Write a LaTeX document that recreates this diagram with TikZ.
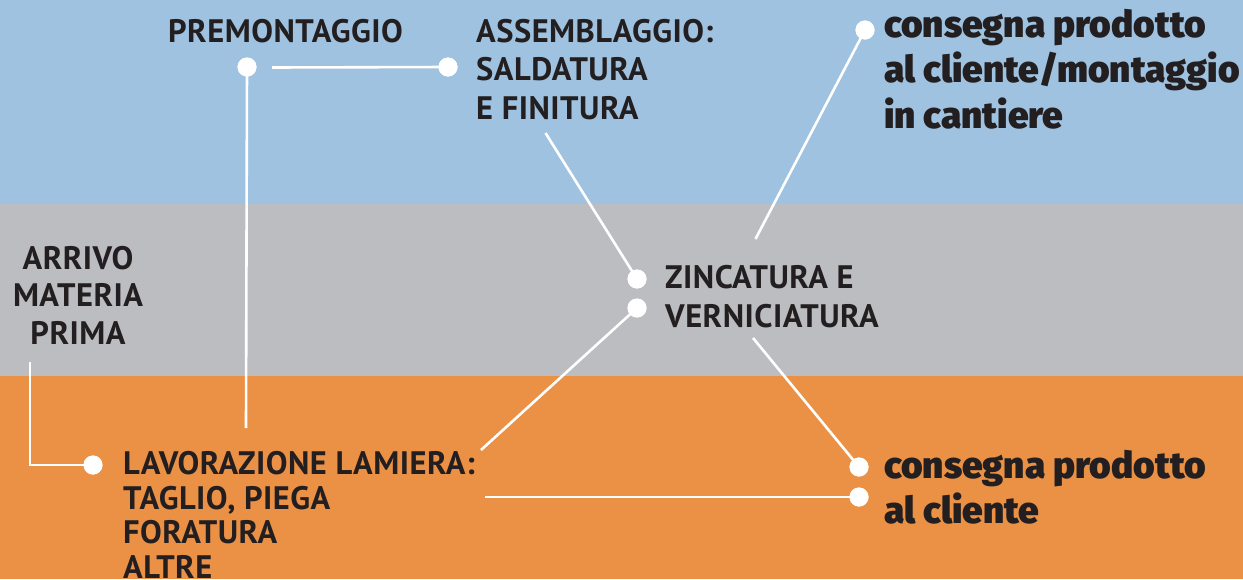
\documentclass[tikz,border=0pt]{standalone}
\usepackage{fontspec}
\setmainfont{PT Sans}[LetterSpace=1.5]
\newfontfamily\heavyfont{Fira Sans}[UprightFont={* Black}]
\definecolor{bandblue}{HTML}{9EC2E0}
\definecolor{bandgray}{HTML}{BCBDC0}
\definecolor{bandorange}{HTML}{EB9145}
\definecolor{ink}{HTML}{231F20}
\begin{document}
\begin{tikzpicture}[x=1pt,y=-1pt,
  dot/.style={circle,fill=white,draw=none,minimum size=19pt,inner sep=0pt},
  link/.style={draw=white,line width=2.6pt},
  capslabel/.style={anchor=base west,inner sep=0pt,align=left,text=ink,
    font=\fontsize{32.5}{#1}\selectfont\bfseries},
  capslabel/.default=38,
  bigsign/.style={anchor=base west,inner sep=0pt,align=left,text=ink,
    font=\fontsize{37}{#1}\selectfont\heavyfont},
  bigsign/.default=45.5]
\useasboundingbox (0,0) rectangle (1243,579);
\fill[bandblue] (0,0) rectangle (1243,204);
\fill[bandgray] (0,204) rectangle (1243,376);
\fill[bandorange] (0,376) rectangle (1243,579);
% dots
\node[dot] (dpre) at (247,67) {};
\node[dot] (dass) at (448,67) {};
\node[dot] (dzinc1) at (637,279) {};
\node[dot] (dzinc2) at (637,308) {};
\node[dot] (dcons1) at (865,30) {};
\node[dot] (dcons2a) at (859,467) {};
\node[dot] (dcons2b) at (859,497) {};
\node[dot] (dlav) at (93,465) {};
% labels (anchored at the baseline of their last line)
\node[capslabel] (tpre) at (168,42) {PREMONTAGGIO};
\node[capslabel=38.5] (tass) at (476,119) {ASSEMBLAGGIO:\\SALDATURA\\E FINITURA};
\node[capslabel=39] (tzinc) at (665,327) {ZINCATURA E\\VERNICIATURA};
\node[capslabel=37.5,anchor=base,align=center] (tarr) at (78,344) {ARRIVO\\MATERIA\\PRIMA};
\node[capslabel=34.7] (tlav) at (123,578.5) {LAVORAZIONE LAMIERA:\\TAGLIO, PIEGA\\FORATURA\\ALTRE};
\node[bigsign] (tcons1) at (884,128) {consegna prodotto\\al cliente/montaggio\\in cantiere};
\node[bigsign=45] (tcons2) at (884,523) {consegna prodotto\\al cliente};
% free ends
\coordinate (pA) at (272,67.5);
\coordinate (pB) at (246,428);
\coordinate (pC) at (545.5,133);
\coordinate (pD) at (755.5,239);
\coordinate (pE) at (481,450);
\coordinate (pF) at (753,338);
\coordinate (pG) at (485,497);
\coordinate (pH) at (30,362);
% connectors
\draw[link] (pA) -- (dass.center);
\draw[link] (dpre.center) -- (pB);
\draw[link] (pC) -- (dzinc1.center);
\draw[link] (pD) -- (dcons1.center);
\draw[link] (pE) -- (dzinc2.center);
\draw[link] (pF) -- (dcons2a.center);
\draw[link] (pG) -- (dcons2b.center);
\draw[link] (pH) |- (dlav.center);
% redraw dots on top
\foreach \n in {dpre,dass,dzinc1,dzinc2,dcons1,dcons2a,dcons2b,dlav}
  \fill[white] (\n) circle (9.5pt);
\end{tikzpicture}
\end{document}
